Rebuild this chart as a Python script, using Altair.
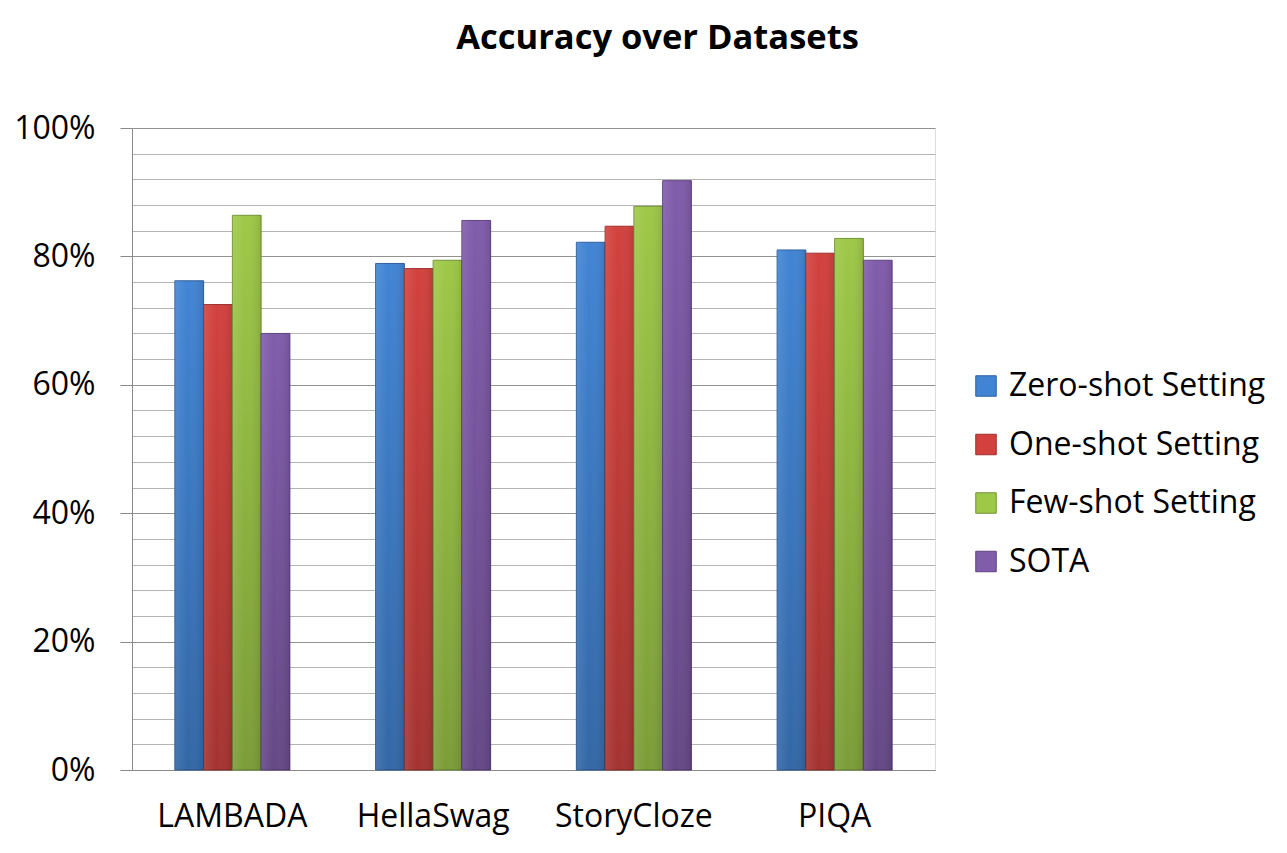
import altair as alt
import pandas as pd

datasets = ["LAMBADA", "HellaSwag", "StoryCloze", "PIQA"]
series = ["Zero-shot Setting", "One-shot Setting", "Few-shot Setting", "SOTA"]
zero_shot = [76.2, 78.9, 82.2, 81.0]
one_shot = [72.5, 78.1, 84.7, 80.5]
few_shot = [86.4, 79.4, 87.8, 82.8]
sota = [68.0, 85.6, 91.8, 79.4]

colors = ["#4184d4", "#d2413d", "#9ec847", "#805cab"]
strokes = ["#2f5f9c", "#9a302d", "#739336", "#5d4380"]

rows = []
for s, vals in zip(series, [zero_shot, one_shot, few_shot, sota]):
    for d, v in zip(datasets, vals):
        rows.append({"Dataset": d, "Series": s, "Accuracy": v})
df = pd.DataFrame(rows)

FONT = "Open Sans"

x = alt.X("Dataset:N", sort=datasets,
          scale=alt.Scale(paddingInner=0.427, paddingOuter=0.2135),
          axis=alt.Axis(title=None, labelAngle=0, ticks=False, labelPadding=31,
                        labelFontSize=32, labelFont=FONT, labelColor="#000000",
                        domainColor="#8a8a8a", grid=False))
y = alt.Y("Accuracy:Q",
          scale=alt.Scale(domain=[0, 100], nice=False),
          axis=alt.Axis(title=None, values=list(range(0, 101, 4)),
                        labelExpr="datum.value % 20 === 0 ? datum.value + '%' : ''",
                        labelFontSize=32, labelFont=FONT, labelColor="#000000",
                        labelPadding=25, tickSize=12, tickColor="#8a8a8a",
                        tickOpacity={"condition": {"test": "datum.value % 20 === 0", "value": 1}, "value": 0},
                        gridColor={"condition": {"test": "datum.value % 20 === 0", "value": "#929292"}, "value": "#b4b4b4"},
                        domainColor="#8a8a8a", grid=True))
xo = alt.XOffset("Series:N", sort=series)

bars = alt.Chart(df).mark_bar(strokeWidth=1).encode(
    x=x, y=y, xOffset=xo,
    color=alt.Color("Series:N", sort=series,
                    scale=alt.Scale(domain=series, range=colors),
                    legend=alt.Legend(title=None, orient="none", legendX=838, legendY=242,
                                      labelFontSize=32, labelFont=FONT, labelColor="#000000",
                                      labelLimit=0,
                                      symbolType="square", symbolSize=420,
                                      symbolStrokeWidth=1, rowPadding=26.5, labelOffset=7)),
    stroke=alt.Stroke("Series:N", sort=series,
                      scale=alt.Scale(domain=series, range=strokes), legend=None),
)

shade = alt.Chart(df).mark_bar(
    color={"gradient": "linear", "x1": 0, "y1": 0, "x2": 0, "y2": 1,
           "stops": [{"offset": 0, "color": "rgba(0,0,0,0)"},
                     {"offset": 1, "color": "rgba(0,0,0,0.22)"}]}
).encode(x=x, y=y, xOffset=xo)

sheen = alt.Chart(df).mark_bar(
    color={"gradient": "linear", "x1": 0, "y1": 0, "x2": 1, "y2": 0,
           "stops": [{"offset": 0, "color": "rgba(255,255,255,0.10)"},
                     {"offset": 0.45, "color": "rgba(255,255,255,0)"},
                     {"offset": 1, "color": "rgba(0,0,0,0.10)"}]}
).encode(x=x, y=y, xOffset=xo)

chart = alt.layer(bars, shade, sheen).properties(
    width=803, height=642,
    title=alt.TitleParams("Accuracy over Datasets", font=FONT, fontSize=34.5,
                          fontWeight="bold", color="#000000", anchor="middle",
                          baseline="bottom", frame="group", offset=22, dx=124),
    autosize=alt.AutoSizeParams(type="none"),
    padding={"left": 124, "top": 120, "right": 344, "bottom": 70},
).configure_view(strokeWidth=0).configure(background="#ffffff")

chart.save("out.html", embed_options={"renderer": "svg", "actions": False})
